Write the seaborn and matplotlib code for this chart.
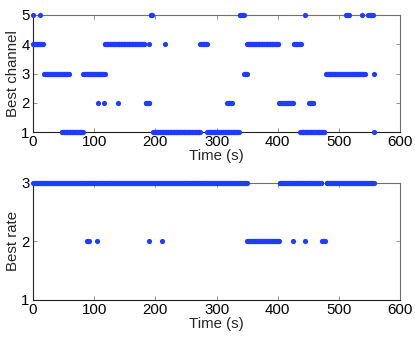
import numpy as np
import pandas as pd
import matplotlib
matplotlib.use("Agg")
import matplotlib.pyplot as plt
import seaborn as sns

# ---- data: runs of time (s) where each channel / rate was best ----
STEP = 1.0
ch1_runs = [(47, 81), (196, 273), (285, 336), (437, 476), (557, 557)]
ch2_runs = [(106, 106), (116, 116), (138, 138), (184, 190), (317, 325), (402, 425), (451, 458)]
ch3_runs = [(18, 58), (82, 117), (345, 349), (479, 542), (557, 557)]
ch4_runs = [(0, 16), (117, 182), (190, 190), (216, 216), (273, 284), (350, 401), (426, 438)]
ch5_runs = [(0, 0), (12, 12), (192, 194), (338, 344), (444, 444), (512, 516), (537, 537), (548, 555)]

rate2_runs = [(88, 91), (104, 104), (190, 190), (211, 211), (350, 402), (425, 425), (444, 444), (473, 477)]
rate3_runs = [(0, 349), (403, 471), (480, 557)]

channels = [1, 2, 3, 4, 5]
rates = [1, 2, 3]
x_ticks = [0, 100, 200, 300, 400, 500, 600]


def expand(runs, value, name):
    t = np.concatenate([np.arange(a, b + STEP / 2, STEP) for a, b in runs])
    return pd.DataFrame({"Time": t, name: value})


df_ch = pd.concat([expand(r, c, "Channel") for r, c in
                   zip([ch1_runs, ch2_runs, ch3_runs, ch4_runs, ch5_runs], channels)])
df_rate = pd.concat([expand(rate2_runs, 2, "Rate"), expand(rate3_runs, 3, "Rate")])

sns.set_theme(style="white")
plt.rcParams["font.family"] = ["Liberation Sans", "DejaVu Sans"]
FS = 10.8

W, H = 415, 337
fig = plt.figure(figsize=(W / 100, H / 100), dpi=100)
ax1 = fig.add_axes([33.1 / W, (H - 132) / H, 367 / W, 117 / H])
ax2 = fig.add_axes([33.1 / W, (H - 299.5) / H, 367 / W, 116.5 / H])

blue = "#1f3cff"
sns.scatterplot(data=df_ch, x="Time", y="Channel", ax=ax1, color=blue,
                s=14, linewidth=0, clip_on=False, zorder=3)
sns.scatterplot(data=df_rate, x="Time", y="Rate", ax=ax2, color=blue,
                s=14, linewidth=0, clip_on=False, zorder=3)

for ax, yt, ylab in [(ax1, channels, "Best channel"), (ax2, rates, "Best rate")]:
    ax.set_xlim(0, 600)
    ax.set_ylim(min(yt), max(yt))
    ax.set_xticks(x_ticks)
    ax.set_yticks(yt)
    ax.set_xlabel("Time (s)", fontsize=FS, labelpad=0)
    ax.set_ylabel(ylab, fontsize=FS)
    ax.yaxis.set_label_coords(-0.036, 0.5)
    ax.tick_params(direction="in", length=3, width=0.6, colors="#808080",
                   labelcolor="black", labelsize=FS, top=True, right=True,
                   bottom=True, left=True, pad=2.5)
    for side in ["left", "bottom"]:
        ax.spines[side].set_color("#202020")
        ax.spines[side].set_linewidth(0.8)
    for side in ["top", "right"]:
        ax.spines[side].set_color("#707070")
        ax.spines[side].set_linewidth(0.8)
    ax.grid(False)

fig.savefig("out.png", dpi=100)
